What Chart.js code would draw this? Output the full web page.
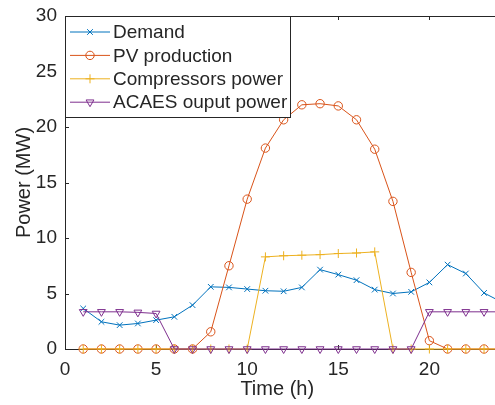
<!DOCTYPE html>
<html>
<head>
<meta charset="utf-8">
<script src="https://cdn.jsdelivr.net/npm/chart.js@4.4.1/dist/chart.umd.min.js"></script>
<style>
  html, body { margin: 0; padding: 0; background: #fff; }
  canvas { display: block; }
</style>
</head>
<body>
<canvas id="myChart" width="495" height="405"></canvas>
<script>
// hourly values (MW)
const hours = [1, 2, 3, 4, 5, 6, 7, 8, 9, 10, 11, 12, 13, 14, 15, 16, 17, 18, 19, 20, 21, 22, 23, 24];
const demand = [3.65, 2.45, 2.15, 2.3, 2.6, 2.9, 3.95, 5.6, 5.55, 5.4, 5.25, 5.2, 5.55, 7.15, 6.7, 6.2, 5.35, 5.0, 5.15, 6.0, 7.6, 6.8, 5.05, 4.2];
const pvProduction = [0, 0, 0, 0, 0, 0, 0, 1.55, 7.5, 13.5, 18.1, 20.65, 22.0, 22.1, 21.9, 20.65, 18.0, 13.3, 6.9, 0.75, 0, 0, 0, 0];
const compressorsPower = [0, 0, 0, 0, 0, 0, 0, 0, 0, 0, 8.3, 8.4, 8.45, 8.5, 8.6, 8.65, 8.75, 0, 0, 0, 0, 0, 0, 0];
const acaesOutput = [3.35, 3.35, 3.35, 3.3, 3.2, 0, 0, 0, 0, 0, 0, 0, 0, 0, 0, 0, 0, 0, 0, 3.35, 3.35, 3.35, 3.35, 3.35];

const seriesNames = ["Demand", "PV production", "Compressors power", "ACAES ouput power"];
const seriesColors = ["#0072BD", "#D95319", "#EDB120", "#7E2F8E"];
const xTicks = [0, 5, 10, 15, 20];
const yTicks = [0, 5, 10, 15, 20, 25, 30];

const FONT = "'Liberation Sans', Arial, Helvetica, sans-serif";
const TEXT = "#262626";

function toPoints(values) {
  return hours.map((h, i) => ({ x: h, y: values[i] }));
}

function series(i, values, style, radius, rotation, order) {
  return {
    label: seriesNames[i],
    data: toPoints(values),
    borderColor: seriesColors[i],
    borderWidth: 1,
    pointStyle: style,
    pointRadius: radius,
    pointRotation: rotation,
    pointBorderWidth: 1,
    pointBackgroundColor: "rgba(0,0,0,0)",
    pointBorderColor: seriesColors[i],
    tension: 0,
    fill: false,
    order: order,
    // let the lines run on to the canvas edge like the cropped original
    clip: { left: 0, top: 6, right: 10, bottom: 10 }
  };
}

// box, inward ticks and the in-plot legend, MATLAB style
const axesBox = {
  id: "axesBox",
  beforeDatasetsDraw(chart) {
    const { ctx, chartArea: a, scales: { x, y } } = chart;
    ctx.save();
    ctx.strokeStyle = TEXT;
    ctx.lineWidth = 1;
    ctx.beginPath();
    ctx.moveTo(a.right + 10, a.top + 0.5);
    ctx.lineTo(a.left + 0.5, a.top + 0.5);
    ctx.lineTo(a.left + 0.5, a.bottom + 0.5);
    ctx.lineTo(a.right + 10, a.bottom + 0.5);
    xTicks.forEach(v => {
      const px = Math.round(x.getPixelForValue(v)) + 0.5;
      ctx.moveTo(px, a.bottom);
      ctx.lineTo(px, a.bottom - 4);
      ctx.moveTo(px, a.top);
      ctx.lineTo(px, a.top + 4);
    });
    yTicks.forEach(v => {
      const py = Math.round(y.getPixelForValue(v)) + 0.5;
      ctx.moveTo(a.left, py);
      ctx.lineTo(a.left + 4, py);
    });
    ctx.stroke();
    ctx.restore();
  },
  afterDraw(chart) {
    const { ctx, chartArea: a } = chart;
    const left = a.left + 0.5, top = a.top + 0.5;
    const w = 225, h = 101, rowH = 23.4;
    ctx.save();
    ctx.fillStyle = "#fff";
    ctx.fillRect(left, top, w, h);
    ctx.strokeStyle = "#262626";
    ctx.lineWidth = 1;
    ctx.strokeRect(left, top, w, h);
    ctx.font = "19px " + FONT;
    ctx.textBaseline = "middle";
    ctx.textAlign = "left";
    seriesNames.forEach((name, i) => {
      const yy = a.top + 16 + i * rowH;
      const ds = chart.data.datasets[i];
      ctx.strokeStyle = ds.borderColor;
      ctx.fillStyle = "rgba(0,0,0,0)";
      ctx.beginPath();
      ctx.moveTo(a.left + 5, yy);
      ctx.lineTo(a.left + 45, yy);
      ctx.stroke();
      Chart.helpers.drawPoint(ctx, {
        pointStyle: ds.pointStyle,
        rotation: ds.pointRotation,
        radius: ds.pointRadius,
        borderWidth: 1
      }, a.left + 25, yy);
      ctx.fillStyle = TEXT;
      ctx.fillText(name, a.left + 48, yy + 1);
    });
    ctx.restore();
  }
};

new Chart(document.getElementById("myChart"), {
  type: "line",
  data: {
    datasets: [
      series(0, demand, "crossRot", 4, 0, 3),
      series(1, pvProduction, "circle", 4.2, 0, 2),
      series(2, compressorsPower, "cross", 4.5, 0, 1),
      series(3, acaesOutput, "triangle", 4.5, 180, 0)
    ]
  },
  options: {
    responsive: false,
    animation: false,
    devicePixelRatio: 1,
    layout: { padding: { top: 16, right: 0, bottom: 0, left: 0 } },
    plugins: {
      legend: { display: false },
      tooltip: { enabled: false }
    },
    scales: {
      x: {
        type: "linear",
        min: 0,
        max: 23.3,
        grid: { display: false, drawTicks: false },
        border: { display: false },
        afterFit: s => { s.height = 56; s.paddingLeft = 0; s.paddingRight = 0; },
        afterBuildTicks: s => { s.ticks = xTicks.map(v => ({ value: v })); },
        ticks: { padding: 9, color: TEXT, font: { size: 19, family: FONT }, maxRotation: 0 },
        title: { display: true, text: "Time (h)", color: TEXT, font: { size: 20, family: FONT }, padding: { top: 0, bottom: 4 } }
      },
      y: {
        min: 0,
        max: 30,
        grid: { display: false, drawTicks: false },
        border: { display: false },
        afterFit: s => { s.width = 65; s.paddingTop = 0; s.paddingBottom = 0; },
        afterBuildTicks: s => { s.ticks = yTicks.map(v => ({ value: v })); },
        ticks: { padding: 8, color: TEXT, font: { size: 19, family: FONT } },
        title: { display: true, text: "Power (MW)", color: TEXT, font: { size: 20, family: FONT }, padding: { top: 12, bottom: 0 } }
      }
    }
  },
  plugins: [axesBox]
});
</script>
</body>
</html>
